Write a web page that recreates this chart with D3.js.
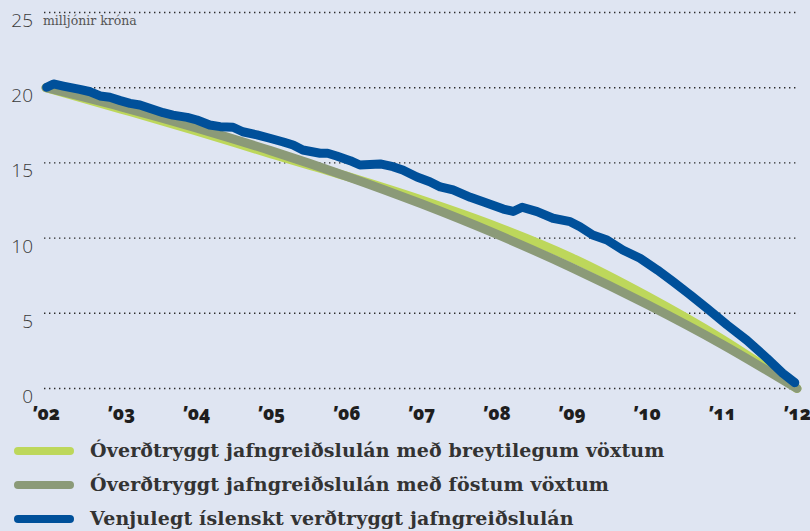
<!DOCTYPE html>
<html>
<head>
  <meta charset="utf-8">
  <title>Jafngreiðslulán</title>
  <script src="https://d3js.org/d3.v7.min.js"></script>
  <style>
    body { margin: 0; background: #dfe5f2; }
    svg { display: block; }
    .ylab text { font-family: "Open Sans", sans-serif; font-weight: 300; font-size: 19px; fill: #3a3a3a; }
    .xlab text { font-family: "Open Sans", sans-serif; font-weight: 800; font-size: 18.5px; fill: #1e1e1e; font-feature-settings: "onum"; }
    .unit { font-family: "DejaVu Serif", serif; font-size: 12.5px; fill: #555; }
    .legend text { font-family: "DejaVu Serif", serif; font-weight: bold; font-size: 19px; letter-spacing: 0.15px; fill: #333; }
  </style>
</head>
<body>
<svg id="chart" width="810" height="531"></svg>
<script>
// ár á x-ás
var years = [2002, 2003, 2004, 2005, 2006, 2007, 2008, 2009, 2010, 2011, 2012];
var yTicks = [0, 5, 10, 15, 20, 25];

// Óverðtryggt, breytilegir vextir (ársgildi)
var breytilegir = [20, 18.58, 17.13, 15.6, 14.12, 12.53, 10.76, 8.69, 6.15, 3.29, 0];
// Óverðtryggt, fastir vextir
var fastir = [20, 18.73, 17.33, 15.8, 14.12, 12.28, 10.26, 8.04, 5.6, 2.94, 0];

// Verðtryggt lán: tími (ár) og staða
var vtTime = [2002.01, 2002.1, 2002.23, 2002.45, 2002.59, 2002.72, 2002.85, 2002.99, 2003.12, 2003.25,
  2003.38, 2003.56, 2003.69, 2003.88, 2004.01, 2004.18, 2004.32, 2004.49, 2004.62, 2004.81,
  2004.98, 2005.16, 2005.29, 2005.42, 2005.65, 2005.75, 2005.87, 2006.05, 2006.18, 2006.45,
  2006.62, 2006.75, 2006.94, 2007.11, 2007.25, 2007.42, 2007.65, 2007.82, 2008.09, 2008.22,
  2008.34, 2008.54, 2008.75, 2008.98, 2009.11, 2009.28, 2009.47, 2009.68, 2009.91, 2010.14,
  2010.35, 2010.58, 2010.8, 2011.07, 2011.33, 2011.6, 2011.81, 2011.97];
var vtValue = [20.03, 20.25, 20.11, 19.89, 19.73, 19.45, 19.36, 19.14, 18.96, 18.85,
  18.63, 18.34, 18.18, 18.03, 17.85, 17.52, 17.41, 17.37, 17.07, 16.86,
  16.64, 16.39, 16.19, 15.86, 15.64, 15.64, 15.46, 15.15, 14.86, 14.93,
  14.75, 14.53, 14.06, 13.75, 13.4, 13.2, 12.71, 12.42, 11.93, 11.77,
  12.05, 11.76, 11.32, 11.09, 10.76, 10.21, 9.87, 9.21, 8.66, 7.88,
  7.1, 6.22, 5.33, 4.22, 3.22, 2.01, 1.01, 0.39];

var seriesNames = [
  "Óverðtryggt jafngreiðslulán með breytilegum vöxtum",
  "Óverðtryggt jafngreiðslulán með föstum vöxtum",
  "Venjulegt íslenskt verðtryggt jafngreiðslulán"
];
var colors = ["#bdd75b", "#8b9a78", "#00509a"];

var svg = d3.select("#chart");

var x = d3.scaleLinear().domain([2002, 2012]).range([46, 797]);
var y = d3.scaleLinear().domain([0, 25]).range([388.5, 12.5]);

// punktalínur
svg.append("g")
  .selectAll("line")
  .data(yTicks)
  .enter()
  .append("line")
  .attr("x1", 44)
  .attr("x2", 797)
  .attr("y1", function (d) { return y(d); })
  .attr("y2", function (d) { return y(d); })
  .attr("stroke", "#2a2a2a")
  .attr("stroke-width", 1.4)
  .attr("stroke-dasharray", "1.4 3.6");

// y-ás
var yAxis = svg.append("g")
  .attr("class", "ylab")
  .attr("transform", "translate(44,0)")
  .call(d3.axisLeft(y).tickValues(yTicks).tickSize(0).tickPadding(11));
yAxis.select(".domain").remove();
yAxis.selectAll("text").attr("dy", "0.74em");

svg.append("text")
  .attr("class", "unit")
  .attr("x", 43)
  .attr("y", 25)
  .text("milljónir króna");

// x-ás
var xAxis = svg.append("g")
  .attr("class", "xlab")
  .attr("transform", "translate(0,388.5)")
  .call(d3.axisBottom(x).tickValues(years).tickSize(0)
    .tickFormat(function (d) { return "’" + String(d).slice(2); }));
xAxis.select(".domain").remove();
xAxis.selectAll("text").attr("y", 31).attr("dy", 0);

// línur
var line = d3.line()
  .x(function (d) { return x(d[0]); })
  .y(function (d) { return y(d[1]); })
  .curve(d3.curveMonotoneX);

var lineRaw = d3.line()
  .x(function (d) { return x(d[0]); })
  .y(function (d) { return y(d[1]); });

var data = [
  years.map(function (t, i) { return [t, breytilegir[i]]; }),
  years.map(function (t, i) { return [t, fastir[i]]; }),
  vtTime.map(function (t, i) { return [t, vtValue[i]]; })
];

data.forEach(function (d, i) {
  svg.append("path")
    .datum(d)
    .attr("d", i == 2 ? lineRaw : line)
    .attr("fill", "none")
    .attr("stroke", colors[i])
    .attr("stroke-width", 9)
    .attr("stroke-linecap", "round")
    .attr("stroke-linejoin", "round");
});

// skýringar
var legend = svg.append("g").attr("class", "legend");
seriesNames.forEach(function (name, i) {
  var ly = 451 + i * 34;
  legend.append("line")
    .attr("x1", 18).attr("x2", 70)
    .attr("y1", ly).attr("y2", ly)
    .attr("stroke", colors[i])
    .attr("stroke-width", 8)
    .attr("stroke-linecap", "round");
  legend.append("text")
    .attr("x", 90)
    .attr("y", ly + 6)
    .text(name);
});
</script>
</body>
</html>
